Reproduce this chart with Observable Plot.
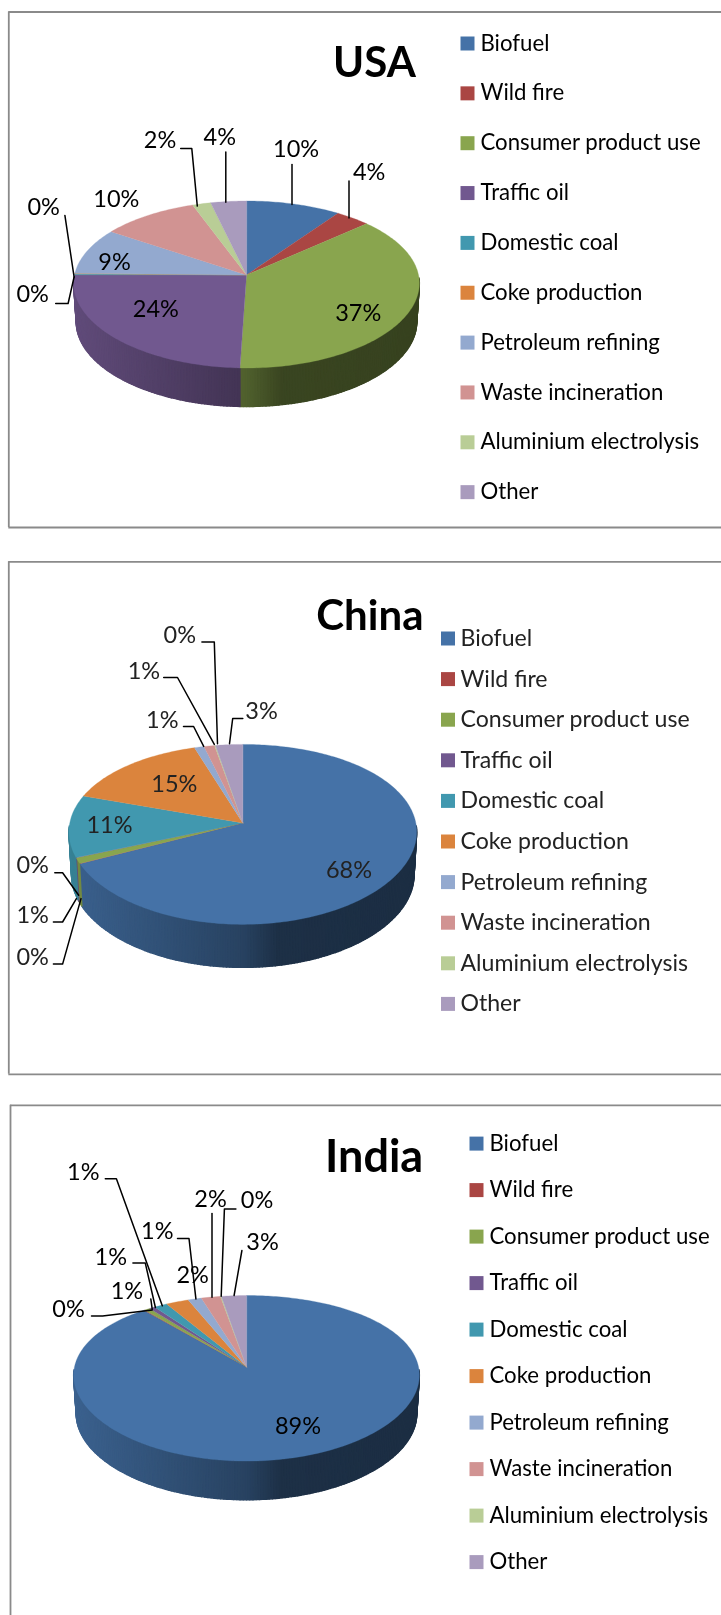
<!DOCTYPE html>
<html>
<head>
<meta charset="utf-8">
<script src="https://cdn.jsdelivr.net/npm/d3@7"></script>
<script src="https://cdn.jsdelivr.net/npm/@observablehq/plot@0.6"></script>
<style>
html,body{margin:0;padding:0;background:#fff}
#root{width:721px;height:1615px;overflow:hidden}
svg{display:block}
</style>
</head>
<body>
<div id="root"></div>
<script>
const categories = ["Biofuel","Wild fire","Consumer product use","Traffic oil","Domestic coal","Coke production","Petroleum refining","Waste incineration","Aluminium electrolysis","Other"];
const colors = ["#4572a7","#aa4643","#89a54e","#71588f","#4198af","#db843d","#93a9cf","#d19392","#b9cd96","#a99bbd"];
const usaValues = [9.8,3.6,37,24.4,0.2,0.1,9,10,1.9,3.7];
const chinaValues = [68,0.05,1,0.05,11,15,1,1.1,0.1,2.8];
const indiaValues = [89,0.1,0.6,0.6,1.4,2.4,1.4,2,0.1,2.6];

const FONT = "Lato, Carlito, Calibri, sans-serif";

const panels = [
  {title:"USA", values:usaValues, slice:[0,540], filter:"blur(0.25px)", ink:"#000", titleSize:42, legendSize:22.2,
   frame:{left:8.3,top:11.5,bottom:527}, titlePos:[374,63.5],
   pie:{cx:246,cy:274.5,R:172,k:0.1,a:83.5,b:9.5,depth:38.5},
   legend:{x:467,tx:480,y0:43,dy:49.85},
   labels:[[295.6,149],[368.7,171.5],[357.7,312.7],[155.4,309.2],[32.2,294.4],[43.2,206.6],[114,261.7],[115.9,198.7],[159.5,139.5],[219.3,136.7]],
   leaders:[[[291.5,163.9],[291.5,203.9]],[[348.5,180.4],[348.5,217.6]],[[180.2,148.1],[191.3,148.1],[196.8,205.6]],[[225.3,151.5],[225.3,201.8]],[[64.4,214.9],[73.6,276.5]],[[55.2,303],[67.6,303],[73.6,276.5]]]},
  {title:"China", values:chinaValues, slice:[540,1090], filter:"blur(0.6px)", ink:"#222", titleSize:42, legendSize:23.1,
   frame:{left:8.3,top:561.3,bottom:1073.8}, titlePos:[369.4,616],
   pie:{cx:242.3,cy:822.4,R:173,k:0.1,a:90,b:11.5,depth:43},
   legend:{x:447.5,tx:460,y0:638,dy:40.6},
   labels:[[348.5,869.5],[32.2,956.7],[32.2,915.3],[32.2,865.4],[109,825.1],[173.8,783.8],[161.8,719.8],[143.4,670.9],[179.3,634.7],[261.1,711.1]],
   leaders:[[[52.9,963.6],[62.1,963.6],[80.5,898.1]],[[52.9,921.5],[62.1,921.5],[75.9,898.1]],[[54.3,872.3],[62.1,872.3],[78.2,894.7]],[[183,726],[193.1,726],[203.2,745.9]],[[163.2,677],[177,677],[213.8,743.9]],[[201.4,641.6],[213.8,641.6],[217,743.2]],[[242.3,718],[232.2,718],[229,743.2]]]},
  {title:"India", values:indiaValues, slice:[1090,1615], filter:"blur(0.25px)", ink:"#000", titleSize:45, legendSize:22.2,
   frame:{left:10,top:1104.8,bottom:null}, titlePos:[373.6,1157.5],
   pie:{cx:246,cy:1366.4,R:172,k:0.1,a:82.8,b:11.4,depth:38.7},
   legend:{x:476,tx:489,y0:1143.1,dy:46.5},
   labels:[[297.5,1426.4],[68,1308.7],[126.4,1291],[110.3,1256.8],[82.8,1172.2],[192.2,1275.3],[156.8,1230.9],[210.1,1198.7],[256.6,1200.1],[262.1,1241.5]],
   leaders:[[[91,1315.5],[102.1,1315.5],[151.7,1309.6]],[[150.3,1298.4],[151.7,1308.7]],[[132.4,1262.6],[144.8,1262.6],[154.9,1307]],[[104.8,1178.3],[115.9,1178.3],[161.8,1305.3]],[[177,1238],[188.5,1238],[195.4,1298.4]],[[211.5,1212.9],[211.5,1296.8]],[[235.4,1208.6],[223.9,1208.6],[220.7,1295.7]],[[241.4,1250],[233.6,1295]]]}
];

const shadeByX = d3.scaleLinear().domain([-1,0,0.2,1]).range([0.85,0.58,0.42,0.40]).clamp(true);

function rimPoint(p, theta){
  const c = Math.sin(theta), s = -Math.cos(theta);
  return [p.cx + p.R*c*(1 + p.k*s), p.cy + p.a*s + p.b*s*s];
}

function drawPanel(panel){
  const p = panel.pie, total = d3.sum(panel.values), D2R = Math.PI/180;
  const ends = d3.cumsum(panel.values).map(v => v/total*360);
  const starts = [0, ...ends.slice(0,-1)];

  const wedgePts = categories.flatMap((cat,i) => {
    const n = Math.max(2, Math.ceil(ends[i]-starts[i]));
    const pts = [{cat, x:p.cx, y:p.cy}];
    for (let j=0;j<=n;j++){
      const [x,y] = rimPoint(p,(starts[i]+(ends[i]-starts[i])*j/n)*D2R);
      pts.push({cat,x,y});
    }
    return pts;
  });

  const wallPts = [];
  const inset = x => p.cx + (x - p.cx)*0.985;
  for (let deg=92; deg<268; deg+=1){
    const idx = Math.max(0, ends.findIndex(e => e >= deg+0.5));
    const [x0,y0] = rimPoint(p,deg*D2R), [x1,y1] = rimPoint(p,(deg+1)*D2R);
    const rgb = d3.rgb(colors[idx]), f = shadeByX(((x0+x1)/2 - p.cx)/p.R);
    const shade = d3.rgb(rgb.r*f,rgb.g*f,rgb.b*f).formatHex();
    [[x0,y0],[x1,y1],[inset(x1),y1+p.depth],[inset(x0),y0+p.depth]].forEach(([x,y]) => wallPts.push({strip:deg,shade,x,y}));
  }

  const labelRows = categories.map((cat,i) => ({
    text: Math.round(panel.values[i]) + "%", x: panel.labels[i][0], y: panel.labels[i][1]
  }));
  const leaderPts = panel.leaders.flatMap((l,k) => l.map(([x,y]) => ({k,x,y})));
  const frameColor = "#8a8a8a";

  const marks = [
    Plot.ruleY([panel.frame.top],{x1:panel.frame.left,x2:721,stroke:frameColor,strokeWidth:1.8}),
    Plot.ruleX([panel.frame.left],{y1:panel.frame.top,y2:panel.frame.bottom ?? panel.slice[1],stroke:frameColor,strokeWidth:1.8}),
    Plot.line(wallPts,{x:"x",y:"y",z:"strip",fill:{value:"shade",scale:null},stroke:{value:"shade",scale:null},strokeWidth:1.4,curve:"linear-closed"}),
    Plot.line(wedgePts,{x:"x",y:"y",z:"cat",fill:"cat",stroke:"cat",strokeWidth:0.3,curve:"linear-closed"}),
    Plot.line(leaderPts,{x:"x",y:"y",z:"k",stroke:"#000",strokeWidth:1.5,curve:"linear"}),
    Plot.text(labelRows,{x:"x",y:"y",text:"text",fill:panel.ink,fontFamily:FONT,fontSize:23.5,textAnchor:"middle"}),
    Plot.text([panel.title],{x:()=>panel.titlePos[0],y:()=>panel.titlePos[1],text:d=>d,fill:"#000",fontFamily:FONT,fontWeight:700,fontSize:panel.titleSize,textAnchor:"middle"}),
    Plot.dot(categories,{x:()=>panel.legend.x,y:(d,i)=>panel.legend.y0+i*panel.legend.dy,fill:d=>d,symbol:"square",r:7.9}),
    Plot.text(categories,{x:()=>panel.legend.tx,y:(d,i)=>panel.legend.y0+i*panel.legend.dy,text:d=>d,fill:panel.ink,fontFamily:FONT,fontSize:panel.legendSize,textAnchor:"start"})
  ];
  if (panel.frame.bottom != null) marks.splice(2,0,Plot.ruleY([panel.frame.bottom],{x1:panel.frame.left,x2:721,stroke:frameColor,strokeWidth:1.8}));

  return Plot.plot({
    width:721, height:panel.slice[1]-panel.slice[0],
    marginTop:0, marginRight:0, marginBottom:0, marginLeft:0,
    x:{domain:[0,721],range:[0,721],axis:null},
    y:{domain:panel.slice,range:[0,panel.slice[1]-panel.slice[0]],axis:null},
    color:{domain:categories,range:colors},
    style:{background:"#fff",filter:panel.filter,display:"block"},
    marks
  });
}

const root = document.getElementById("root");
panels.forEach(panel => root.appendChild(drawPanel(panel)));
</script>
</body>
</html>
